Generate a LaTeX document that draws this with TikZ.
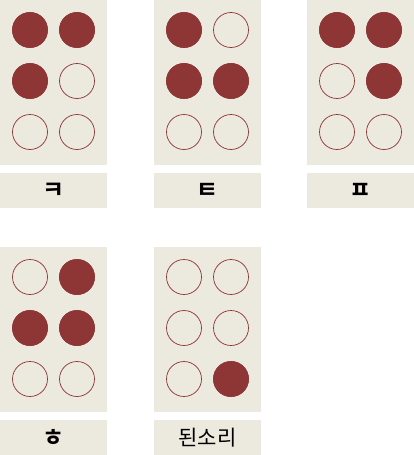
\documentclass[tikz,border=0pt]{standalone}
\usepackage{fontspec}
\newfontfamily\kr{Noto Sans CJK KR}[BoldFont={Noto Sans CJK KR Bold}]
\definecolor{bgc}{HTML}{ECE9DF}
\definecolor{dotc}{HTML}{8E3535}
\tikzset{
  cellbg/.style={fill=bgc, draw=none},
  dotfull/.style={circle, minimum size=35pt, inner sep=0pt, fill=dotc, draw=dotc, line width=0.7pt},
  dotempty/.style={circle, minimum size=35pt, inner sep=0pt, draw=dotc, line width=0.7pt},
  lbl/.style={font=\kr\fontsize{21}{21}\selectfont, text=black},
  jamo/.style={font=\kr\bfseries\fontsize{24}{24}\selectfont, text=black}
}
\newcommand{\brcell}[6]{%
  % #1 name, #2 x, #3 y, #4 list of filled indices, #5 label, #6 label style
  \fill[cellbg] (#2,#3) rectangle ++(107,165);
  \fill[cellbg] (#2,#3+173) rectangle ++(107,35);
  \node[#6] (#1lbl) at (#2+53.5,#3+190.5) {#5};
  \foreach \i/\cx/\cy in {1/30/30, 2/30/81, 3/30/132, 4/77/30, 5/77/81, 6/77/132}{
    \node[dotempty] (#1d\i) at (#2+\cx,#3+\cy) {};
  }
  \foreach \i/\cx/\cy in {#4}{
    \node[dotfull] (#1f\i) at (#2+\cx,#3+\cy) {};
  }
}
\begin{document}
\begin{tikzpicture}[x=1pt,y=-1pt]
\useasboundingbox (0,0) rectangle (414,455);
\brcell{k}{0}{0}{1/30/30, 4/77/30, 2/30/81}{ㅋ}{jamo}
\brcell{t}{154}{0}{1/30/30, 2/30/81, 5/77/81}{ㅌ}{jamo}
\brcell{p}{307}{0}{1/30/30, 4/77/30, 5/77/81}{ㅍ}{jamo}
\brcell{h}{0}{247}{4/77/30, 2/30/81, 5/77/81}{ㅎ}{jamo}
\brcell{s}{154}{247}{6/77/132}{된소리}{lbl}
\end{tikzpicture}
\end{document}
